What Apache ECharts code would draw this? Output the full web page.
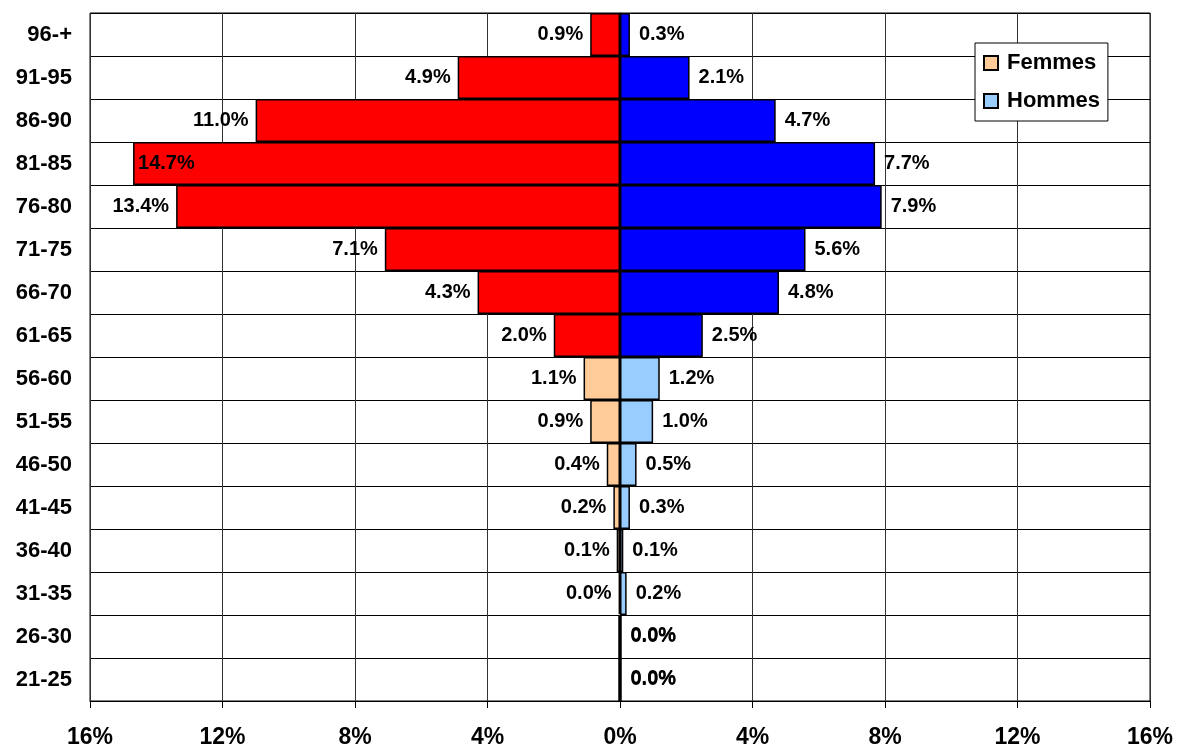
<!DOCTYPE html>
<html>
<head>
<meta charset="utf-8">
<script src="https://cdn.jsdelivr.net/npm/echarts@6/dist/echarts.min.js"></script>
<style>
  html, body { margin: 0; padding: 0; background: #fff; }
  #main { width: 1177px; height: 749px; }
</style>
</head>
<body>
<div id="main"></div>
<script>
// tranches d'age, du haut vers le bas
const ages = ['96-+', '91-95', '86-90', '81-85', '76-80', '71-75', '66-70', '61-65',
  '56-60', '51-55', '46-50', '41-45', '36-40', '31-35', '26-30', '21-25'];
const femmes = [0.9, 4.9, 11.0, 14.7, 13.4, 7.1, 4.3, 2.0, 1.1, 0.9, 0.4, 0.2, 0.1, 0.04, 0, 0];
const hommes = [0.3, 2.1, 4.7, 7.7, 7.9, 5.6, 4.8, 2.5, 1.2, 1.0, 0.5, 0.3, 0.1, 0.2, 0, 0];
const xTicks = [-16, -12, -8, -4, 0, 4, 8, 12, 16];

const labelFont = { fontFamily: 'Liberation Sans', fontWeight: 'bold', fontSize: 20, color: '#000' };
const fmt = p => Math.abs(p.value).toFixed(1) + '%';
const isOld = i => i < 8;

const chart = echarts.init(document.getElementById('main'));

const femData = femmes.map((v, i) => {
  let d = { value: -v };
  if (isOld(i)) d.itemStyle = { color: '#FF0000' };
  if (v > 14) d.label = { position: 'insideLeft', distance: 5 };
  if (v === 0) {
    d.label = { position: 'right', distance: 8, offset: [1, -1] };
    d.itemStyle = { borderWidth: 3 };
  }
  return d;
});
const homData = hommes.map((v, i) => {
  let d = { value: v };
  if (isOld(i)) d.itemStyle = { color: '#0000FF' };
  if (v === 0) d.itemStyle = { borderWidth: 3 };
  return d;
});

chart.setOption({
  animation: false,
  grid: { left: 90, right: 27, top: 13, bottom: 46, show: true, borderColor: '#000', borderWidth: 1 },
  legend: {
    orient: 'vertical',
    left: 975, top: 43,
    padding: [9, 8, 9, 8],
    itemGap: 16,
    itemWidth: 14, itemHeight: 14,
    icon: 'rect',
    backgroundColor: '#fff',
    borderColor: '#000', borderWidth: 1,
    textStyle: { fontFamily: 'Liberation Sans', fontWeight: 'bold', fontSize: 22, color: '#000', padding: [0, 0, 0, 4] },
    data: ['Femmes', 'Hommes']
  },
  xAxis: {
    type: 'value',
    min: -16, max: 16, interval: 4,
    axisLine: { show: true, lineStyle: { color: '#000' } },
    axisTick: { show: true, length: 7, lineStyle: { color: '#000' } },
    splitLine: { show: true, lineStyle: { color: '#333' } },
    axisLabel: {
      margin: 25,
      fontFamily: 'Liberation Sans', fontWeight: 'bold', fontSize: 23, color: '#000',
      formatter: v => xTicks.indexOf(v) >= 0 ? Math.abs(v) + '%' : ''
    }
  },
  yAxis: {
    type: 'category',
    inverse: true,
    data: ages,
    axisLine: { show: true, lineStyle: { color: '#000' } },
    axisTick: { show: false },
    splitLine: { show: true, lineStyle: { color: '#000' } },
    axisLabel: {
      margin: 18,
      fontFamily: 'Liberation Sans', fontWeight: 'bold', fontSize: 22, color: '#000'
    }
  },
  series: [
    {
      name: 'Femmes', type: 'bar', stack: 'pyr', barCategoryGap: '0%',
      itemStyle: { color: '#FFCC99', borderColor: '#000', borderWidth: 1.5 },
      label: Object.assign({ show: true, position: 'left', distance: 7, formatter: fmt }, labelFont),
      data: femData
    },
    {
      name: 'Hommes', type: 'bar', stack: 'pyr', barCategoryGap: '0%',
      itemStyle: { color: '#99CCFF', borderColor: '#000', borderWidth: 1.5 },
      label: Object.assign({ show: true, position: 'right', distance: 9, formatter: fmt }, labelFont),
      data: homData
    }
  ]
});
</script>
</body>
</html>
